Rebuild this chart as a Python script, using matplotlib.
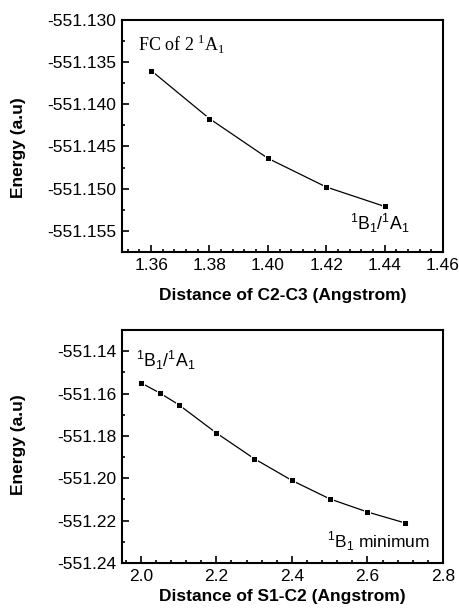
import matplotlib
matplotlib.use("Agg")
import matplotlib.pyplot as plt
from matplotlib.ticker import MultipleLocator, FormatStrFormatter

# Data
cc_dist = [1.36, 1.38, 1.40, 1.42, 1.44]
cc_energy = [-551.1360, -551.1417, -551.1464, -551.1498, -551.1521]

sc_dist = [2.0, 2.05, 2.1, 2.2, 2.3, 2.4, 2.5, 2.6, 2.7]
sc_energy = [-551.1549, -551.1597, -551.1652, -551.1786, -551.1907,
             -551.2010, -551.2097, -551.2159, -551.2211]

plt.rcParams['font.family'] = ['Liberation Sans', 'DejaVu Sans']
plt.rcParams['mathtext.fontset'] = 'custom'

fig = plt.figure(figsize=(4.6, 6.14), dpi=100)
ax1 = fig.add_axes([0.265, 0.5896, 0.698, 0.378])
ax2 = fig.add_axes([0.265, 0.083, 0.698, 0.3795])

LBL = 12.5
TCK = 12.5

def style(ax):
    for s in ax.spines.values():
        s.set_linewidth(1.5)
    ax.tick_params(which='both', direction='in', top=False, right=False,
                   labelsize=TCK, width=1.2, pad=4)
    ax.tick_params(which='major', length=5)
    ax.tick_params(which='minor', length=2.5)

# top
ax1.plot(cc_dist, cc_energy, color='black', lw=0.9, marker='s', ms=4.6,
         mfc='black', mec='white', mew=0.7)
ax1.set_xlim(1.35, 1.46)
ax1.set_ylim(-551.1575, -551.130)
ax1.xaxis.set_major_locator(MultipleLocator(0.02))
ax1.xaxis.set_minor_locator(MultipleLocator(0.004))
ax1.yaxis.set_major_locator(MultipleLocator(0.005))
ax1.yaxis.set_minor_locator(MultipleLocator(0.0025))
ax1.xaxis.set_major_formatter(FormatStrFormatter('%.2f'))
ax1.yaxis.set_major_formatter(FormatStrFormatter('%.3f'))
style(ax1)
ax1.set_xlabel('Distance of C2-C3 (Angstrom)', fontsize=LBL, fontweight='bold')
ax1.set_ylabel('Energy (a.u)', fontsize=LBL, fontweight='bold')
ax1.xaxis.set_label_coords(0.5, -0.155)
ax1.yaxis.set_label_coords(-0.30, 0.45)
ax1.text(1.3555, -551.1329, r'FC of 2 $^{\mathregular{1}}$A$_{\mathregular{1}}$',
         fontsize=13, family=['Liberation Serif', 'DejaVu Serif'], va='center', ha='left')
ax1.text(1.4385, -551.1541, r'$^{\mathregular{1}}$B$_{\mathregular{1}}$/$^{\mathregular{1}}$A$_{\mathregular{1}}$',
         fontsize=12.7, va='center', ha='center')

# bottom
ax2.plot(sc_dist, sc_energy, color='black', lw=0.9, marker='s', ms=4.6,
         mfc='black', mec='white', mew=0.7)
ax2.set_xlim(1.95, 2.8)
ax2.set_ylim(-551.24, -551.13)
ax2.xaxis.set_major_locator(MultipleLocator(0.2))
ax2.xaxis.set_minor_locator(MultipleLocator(0.04))
ax2.yaxis.set_major_locator(MultipleLocator(0.02))
ax2.yaxis.set_minor_locator(MultipleLocator(0.01))
ax2.xaxis.set_major_formatter(FormatStrFormatter('%.1f'))
ax2.yaxis.set_major_formatter(FormatStrFormatter('%.2f'))
style(ax2)
ax2.set_xlabel('Distance of S1-C2 (Angstrom)', fontsize=LBL, fontweight='bold')
ax2.set_ylabel('Energy (a.u)', fontsize=LBL, fontweight='bold')
ax2.xaxis.set_label_coords(0.5, -0.112)
ax2.yaxis.set_label_coords(-0.30, 0.51)
ax2.text(1.988, -551.1444, r'$^{\mathregular{1}}$B$_{\mathregular{1}}$/$^{\mathregular{1}}$A$_{\mathregular{1}}$',
         fontsize=12.7, va='center', ha='left')
ax2.text(2.493, -551.2295, r'$^{\mathregular{1}}$B$_{\mathregular{1}}$ minimum',
         fontsize=12.5, va='center', ha='left')

fig.savefig('out.png', dpi=100)
